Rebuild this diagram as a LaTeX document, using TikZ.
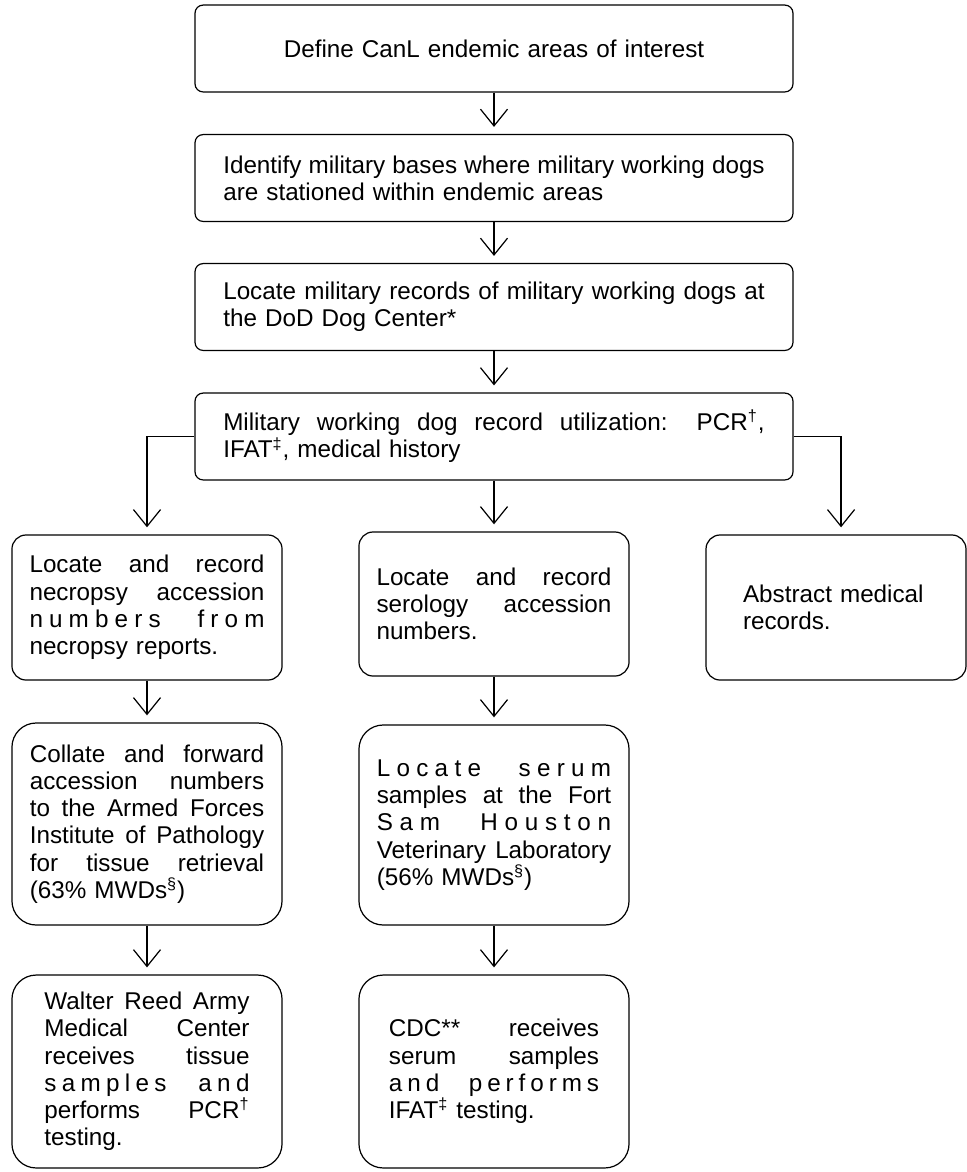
\documentclass[tikz,border=0pt]{standalone}
\usepackage{fontspec}
\setmainfont{Liberation Sans}
\usetikzlibrary{arrows.meta}
\newcommand\jl[1]{\makebox[\hsize][s]{\spaceskip=0pt\xspaceskip=0pt\relax #1}}
\newcommand\lsp{\hskip 0pt plus 1fil\relax}
\newcommand\lwd{\hskip 0pt plus 6fil\relax}
\tikzset{
  box/.style={draw, line width=0.6pt, inner sep=0pt, align=left,
    font=\fontsize{12}{13.5}\selectfont},
  wide/.style={box, rounded corners=4pt, minimum width=296pt,
    minimum height=43pt, text width=268pt},
  cell/.style={box, minimum width=133.7pt},
  conn/.style={-{Straight Barb[length=8.3pt,width=13.4pt]}, line width=0.6pt,
    shorten >=3.5pt}
}
\begin{document}
\begin{tikzpicture}[x=0.495pt, y=-0.495pt]
\useasboundingbox (0,0) rectangle (967,1172);
\node[wide, align=center] (define) at (494,48.5) {Define CanL endemic areas of interest};
\node[wide] (identify) at (494,178) {\jl{Identify military bases where military working dogs}\\are stationed within endemic areas};
\node[wide] (locate) at (494,307) {\jl{Locate military records of military working dogs at}\\the DoD Dog Center*};
\node[wide] (usage) at (494,436.5) {\jl{Military working dog record utilization: PCR\textsuperscript{†},}\\IFAT\textsuperscript{‡}, medical history};

\node[cell, rounded corners=7pt, minimum height=71.8pt, text width=116.3pt] (necropsy) at (147,607.5)
  {\jl{Locate and record}\\\jl{necropsy accession}\\\jl{n\lsp u\lsp m\lsp b\lsp e\lsp r\lsp s\lwd f\lsp r\lsp o\lsp m}\\necropsy reports.};
\node[cell, rounded corners=7pt, minimum height=71.3pt, text width=116.3pt] (serology) at (494,604)
  {\jl{Locate and record}\\\jl{serology accession}\\numbers.};
\node[cell, rounded corners=7pt, minimum width=128.7pt, minimum height=71.8pt, text width=92pt] (abstract) at (836,607.5)
  {Abstract medical\\records.};

\node[cell, rounded corners=12pt, minimum height=100pt, text width=116pt] (collate) at (147,824)
  {\jl{Collate and forward}\\\jl{accession numbers}\\\jl{to the Armed Forces}\\\jl{Institute of Pathology}\\\jl{for tissue retrieval}\\(63\% MWDs\textsuperscript{§})};
\node[cell, rounded corners=12pt, minimum height=99pt, text width=116pt] (serum) at (494,825)
  {\jl{L\lsp o\lsp c\lsp a\lsp t\lsp e\lwd s\lsp e\lsp r\lsp u\lsp m}\\\jl{samples at the Fort}\\\jl{S\lsp a\lsp m\lwd H\lsp o\lsp u\lsp s\lsp t\lsp o\lsp n}\\\jl{Veterinary Laboratory}\\(56\% MWDs\textsuperscript{§})};

\node[cell, rounded corners=12pt, minimum height=95.5pt, text width=101.5pt] (wrair) at (147,1071.5)
  {\jl{Walter Reed Army}\\\jl{Medical Center}\\\jl{receives tissue}\\\jl{s\lsp a\lsp m\lsp p\lsp l\lsp e\lsp s\lwd a\lsp n\lsp d}\\\jl{performs PCR\textsuperscript{†}}\\testing.};
\node[cell, rounded corners=12pt, minimum height=95.5pt, text width=104pt] (cdc) at (494,1071.5)
  {\jl{CDC** receives}\\\jl{serum samples}\\\jl{a\lsp n\lsp d\lwd p\lsp e\lsp r\lsp f\lsp o\lsp r\lsp m\lsp s}\\IFAT\textsuperscript{‡} testing.};

\draw[conn] (define) -- (identify);
\draw[conn] (identify) -- (locate);
\draw[conn] (locate) -- (usage);
\draw[conn] (usage.west) -| (necropsy.north);
\draw[conn] (usage) -- (serology);
\draw[conn] (usage.east) -| ([xshift=2.5pt]abstract.north);
\draw[conn] (necropsy) -- (collate);
\draw[conn] (serology) -- (serum);
\draw[conn] (collate) -- (wrair);
\draw[conn] (serum) -- (cdc);
\end{tikzpicture}
\end{document}
